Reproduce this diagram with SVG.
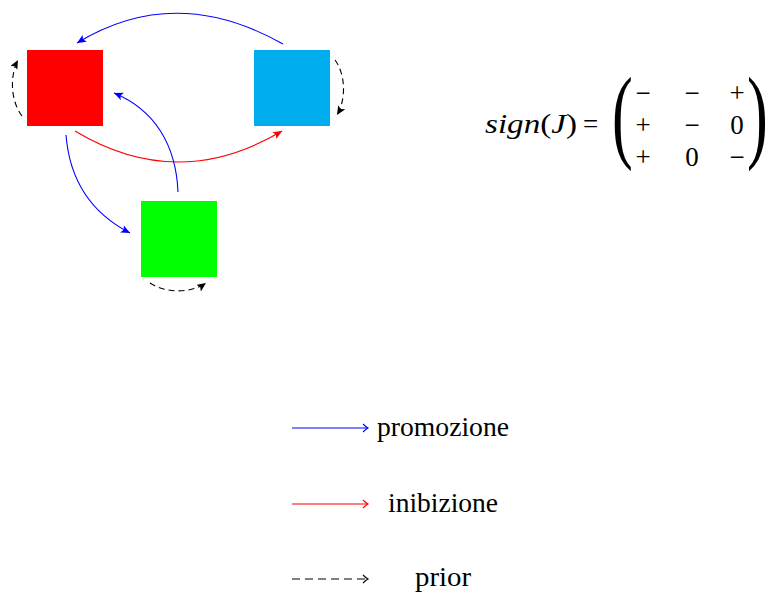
<svg xmlns="http://www.w3.org/2000/svg" width="773" height="593" viewBox="0 0 773 593">
<style>
.t{font-family:"Liberation Serif","DejaVu Serif",serif;font-size:27px;fill:#000}
.m{font-family:"Liberation Serif","DejaVu Serif",serif;font-size:27px;fill:#000;text-anchor:middle}
.c{fill:none;stroke-width:1.1}
.b{stroke:#0000ff}
.r{stroke:#ff0000}
.k{stroke:#000;stroke-dasharray:6,4}
.kl{stroke:#000;stroke-dasharray:8,5}
</style>
<defs>
<marker id="ab" markerUnits="userSpaceOnUse" markerWidth="12" markerHeight="10" refX="9" refY="4" orient="auto"><path d="M0,0 L9,4 L0,8 L2,4 Z" fill="#0000ff"/></marker>
<marker id="ar" markerUnits="userSpaceOnUse" markerWidth="12" markerHeight="10" refX="9" refY="4" orient="auto"><path d="M0,0 L9,4 L0,8 L2,4 Z" fill="#ff0000"/></marker>
<marker id="ak" markerUnits="userSpaceOnUse" markerWidth="12" markerHeight="10" refX="9" refY="4" orient="auto"><path d="M0,0 L9,4 L0,8 L2,4 Z" fill="#000"/></marker>
<marker id="ob" markerUnits="userSpaceOnUse" markerWidth="10" markerHeight="12" refX="6" refY="5" orient="auto"><path d="M1,1 Q4,4 6,5 Q4,6 1,9" fill="none" stroke="#0000ff" stroke-width="1.1"/></marker>
<marker id="or" markerUnits="userSpaceOnUse" markerWidth="10" markerHeight="12" refX="6" refY="5" orient="auto"><path d="M1,1 Q4,4 6,5 Q4,6 1,9" fill="none" stroke="#ff0000" stroke-width="1.1"/></marker>
<marker id="ok" markerUnits="userSpaceOnUse" markerWidth="10" markerHeight="12" refX="6" refY="5" orient="auto"><path d="M1,1 Q4,4 6,5 Q4,6 1,9" fill="none" stroke="#000" stroke-width="1.1"/></marker>
</defs>
<g id="node-red"><rect x="27" y="50" width="76" height="76" fill="#ff0000"/></g>
<g id="node-cyan"><rect x="254" y="50" width="76" height="76" fill="#00aeef"/></g>
<g id="node-green"><rect x="141" y="201" width="76" height="76" fill="#00ff00"/></g>
<g id="connectors">
<path class="c b" d="M283,44 Q175,-17 77,43" marker-end="url(#ab)"/>
<path class="c r" d="M75,131 Q178,193 282,131" marker-end="url(#ar)"/>
<path class="c b" d="M66,135 C70,185 95,215 130,233" marker-end="url(#ab)"/>
<path class="c b" d="M178,192 C176,145 155,110 114,93" marker-end="url(#ab)"/>
<path class="c k" d="M22,116 C10,100 10,75 18,60" marker-end="url(#ak)"/>
<path class="c k" d="M335,60 C346,75 346,100 337,115" marker-end="url(#ak)"/>
<path class="c k" d="M150,283 C165,293 190,294 206,283" marker-end="url(#ak)"/>
</g>
<g id="legend">
<line class="c b" x1="292" y1="428" x2="368" y2="428" marker-end="url(#ob)"/>
<text class="t" x="377" y="436" textLength="132" lengthAdjust="spacingAndGlyphs">promozione</text>
<line class="c r" x1="292" y1="504" x2="368" y2="504" marker-end="url(#or)"/>
<text class="t" x="388" y="512" textLength="110" lengthAdjust="spacingAndGlyphs">inibizione</text>
<line class="c kl" x1="292" y1="579" x2="368" y2="579" marker-end="url(#ok)"/>
<text class="t" x="415" y="586" textLength="56" lengthAdjust="spacingAndGlyphs">prior</text>
</g>
<g id="matrix">
<text class="t" x="485" y="133" textLength="92" lengthAdjust="spacingAndGlyphs"><tspan font-style="italic">sign</tspan>(<tspan font-style="italic">J</tspan>)</text>
<text class="t" x="583" y="133">=</text>
<text class="t" transform="translate(612,149) scale(0.6,1)" style="font-size:104px">(</text>
<text class="t" transform="translate(747,149) scale(0.6,1)" style="font-size:104px">)</text>
<text class="m" x="643" y="102">−</text>
<text class="m" x="692" y="102">−</text>
<text class="m" x="737" y="102">+</text>
<text class="m" x="643" y="134">+</text>
<text class="m" x="692" y="134">−</text>
<text class="m" x="737" y="134">0</text>
<text class="m" x="643" y="166">+</text>
<text class="m" x="692" y="166">0</text>
<text class="m" x="737" y="166">−</text>
</g>
</svg>
